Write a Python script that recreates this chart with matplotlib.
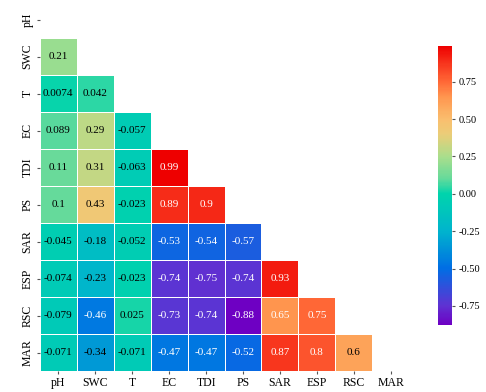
import numpy as np
import matplotlib
matplotlib.use("Agg")
import matplotlib.pyplot as plt
from matplotlib.colors import LinearSegmentedColormap, Normalize
import seaborn as sns

labels = ["pH", "SWC", "T", "EC", "TDI", "PS", "SAR", "ESP", "RSC", "MAR"]

# lower triangle of the correlation matrix, row by row
row_swc = [0.21]
row_t = [0.0074, 0.042]
row_ec = [0.089, 0.29, -0.057]
row_tdi = [0.11, 0.31, -0.063, 0.99]
row_ps = [0.1, 0.43, -0.023, 0.89, 0.9]
row_sar = [-0.045, -0.18, -0.052, -0.53, -0.54, -0.57]
row_esp = [-0.074, -0.23, -0.023, -0.74, -0.75, -0.74, 0.93]
row_rsc = [-0.079, -0.46, 0.025, -0.73, -0.74, -0.88, 0.65, 0.75]
row_mar = [-0.071, -0.34, -0.071, -0.47, -0.47, -0.52, 0.87, 0.8, 0.6]

rows = [row_swc, row_t, row_ec, row_tdi, row_ps, row_sar, row_esp, row_rsc, row_mar]

n = len(labels)
corr = np.eye(n)
for i, r in enumerate(rows, start=1):
    for j, v in enumerate(r):
        corr[i, j] = v
        corr[j, i] = v

mask = np.triu(np.ones_like(corr, dtype=bool))
vmin = corr[~mask].min()
vmax = corr[~mask].max()

# rainbow-like palette, as the colours look in the reference
cm_vals = [-0.88, -0.75, -0.5, -0.25, 0.0, 0.1, 0.25, 0.4, 0.5, 0.65, 0.75, 0.87, 0.99]
cm_cols = ["#6e00c3", "#5f32d2", "#006ee4", "#00b4cd", "#00d4ac", "#64da9b",
           "#aade8c", "#ebcd78", "#fabe6e", "#ff964f", "#ff6937", "#f8371e", "#ee0000"]
pos = [(v - vmin) / (vmax - vmin) for v in cm_vals]
pos[0], pos[-1] = 0.0, 1.0
cmap = LinearSegmentedColormap.from_list("ref_rainbow", list(zip(pos, cm_cols)))

plt.rcParams["font.family"] = ["Liberation Serif", "DejaVu Serif"]

fig = plt.figure(figsize=(4.86, 3.92), dpi=100)
ax = fig.add_axes([0.082, 0.053, 0.760, 0.944])
cax = fig.add_axes([0.901, 0.17, 0.029, 0.713])

sns.heatmap(corr, mask=mask, cmap=cmap, vmin=vmin, vmax=vmax, annot=True, fmt=".2g",
            annot_kws={"size": 8}, linewidths=0.7, linecolor="white",
            xticklabels=labels, yticklabels=labels, ax=ax, cbar_ax=cax)


# text colour as seaborn picks it for the plain rainbow map
def rel_lum(c):
    rgb = np.array(c[:3])
    rgb = np.where(rgb <= .03928, rgb / 12.92, ((rgb + .055) / 1.055) ** 2.4)
    return rgb.dot([.2126, .7152, .0722])


norm = Normalize(vmin, vmax)
rb = plt.get_cmap("rainbow")
for t in ax.texts:
    v = float(t.get_text())
    t.set_color("black" if rel_lum(rb(norm(v))) > .408 else "white")

ax.tick_params(axis="both", labelsize=8.5, length=2.5, pad=2, color="#555555")
cax.tick_params(labelsize=7.5, length=2.5, pad=2, color="#555555")
cax.set_yticks([-0.75, -0.5, -0.25, 0, 0.25, 0.5, 0.75])
cax.set_yticklabels(["-0.75", "-0.50", "-0.25", "0.00", "0.25", "0.50", "0.75"])
for s in cax.spines.values():
    s.set_visible(False)

fig.savefig("out.png", dpi=100)
